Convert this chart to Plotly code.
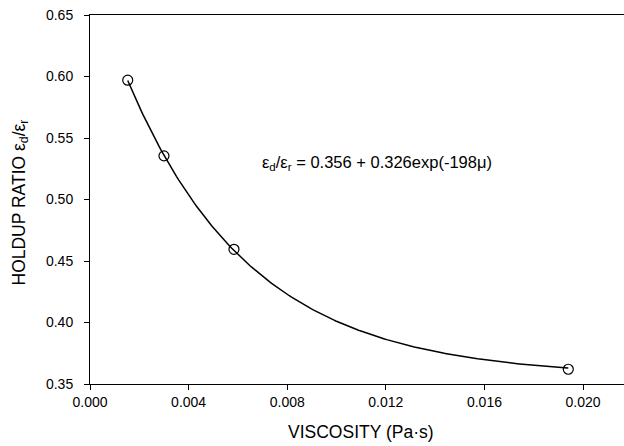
import numpy as np
import plotly.graph_objects as go

# measured data points
viscosity = [0.00153, 0.0030, 0.00584, 0.0194]
holdup_ratio = [0.597, 0.5355, 0.4595, 0.362]

# fitted curve parameters (from the equation shown on chart)
fit_a, fit_b, fit_c = 0.356, 0.326, 198.0
x_fit = np.linspace(viscosity[0], viscosity[-1], 200)
y_fit = fit_a + fit_b * np.exp(-fit_c * x_fit)

x_ticks = [0.000, 0.004, 0.008, 0.012, 0.016, 0.020]
y_ticks = [0.35, 0.40, 0.45, 0.50, 0.55, 0.60, 0.65]

FONT = "Liberation Sans, Arial"

fig = go.Figure()
fig.add_trace(go.Scatter(x=x_fit, y=y_fit, mode="lines",
                         line=dict(color="black", width=1.5), showlegend=False))
fig.add_trace(go.Scatter(x=viscosity, y=holdup_ratio, mode="markers",
                         marker=dict(symbol="circle-open", size=10, color="black",
                                     line=dict(width=1.2, color="black")),
                         showlegend=False))

fig.add_annotation(x=0.0069, y=0.5297, xanchor="left", yanchor="middle", showarrow=False,
                   text="ε<sub>d</sub>/ε<sub>r</sub> = 0.356 + 0.326exp(-198μ)",
                   font=dict(family=FONT, size=16.5, color="black"))

# axis titles
fig.add_annotation(xref="paper", yref="paper", x=0.5, y=0,
                   xanchor="center", yanchor="middle", yshift=-48, xshift=4,
                   showarrow=False, text="VISCOSITY (Pa·s)",
                   font=dict(family=FONT, size=17.5, color="black"))
fig.add_annotation(xref="paper", yref="paper", x=0, y=0.5, xanchor="center", yanchor="middle",
                   xshift=-70, yshift=-3, textangle=-90, showarrow=False,
                   text="HOLDUP RATIO ε<sub>d</sub>/ε<sub>r</sub>",
                   font=dict(family=FONT, size=17.5, color="black"))

fig.update_layout(
    width=624, height=446,
    margin=dict(l=90, r=0, t=15, b=62, autoexpand=False),
    plot_bgcolor="white", paper_bgcolor="white",
    font=dict(family=FONT, size=14, color="black"),
    xaxis=dict(range=[0, 0.02166], tickvals=x_ticks,
               ticktext=[f"{v:.3f}" for v in x_ticks],
               ticks="outside", ticklen=5, tickcolor="black",
               showline=True, linecolor="black", linewidth=1, mirror=True,
               showgrid=False, zeroline=False, automargin=False),
    yaxis=dict(range=[0.35, 0.65], tickvals=y_ticks,
               ticktext=[f"{v:.2f}" for v in y_ticks],
               ticks="outside", ticklen=5, tickcolor="black",
               ticklabelposition="outside", ticklabelstandoff=8,
               showline=True, linecolor="black", linewidth=1, mirror=True,
               showgrid=False, zeroline=False, automargin=False),
)

fig.write_html("out.html", config={"displayModeBar": False},
               post_script="document.body.style.margin='0';document.body.style.overflow='hidden';")
